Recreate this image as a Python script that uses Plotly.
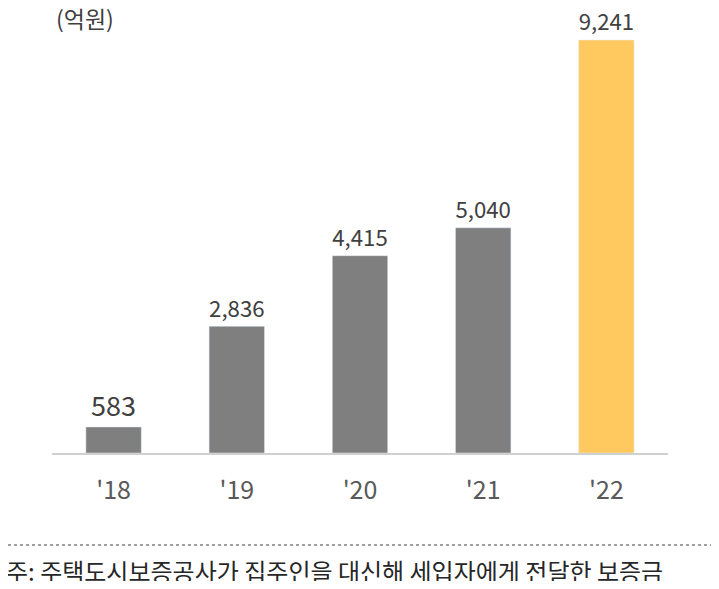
import plotly.graph_objects as go

years = ["'18", "'19", "'20", "'21", "'22"]
values = [583, 2836, 4415, 5040, 9241]
labels = ["583", "2,836", "4,415", "5,040", "9,241"]
colors = ["#7f7f7f"] * 4 + ["#ffc95f"]

W, H = 703, 573
L, R, T, B = 44, 43, 12, 128
ph = H - T - B
pw = W - L - R

fig = go.Figure(go.Bar(
    x=years, y=values, marker_color=colors, width=0.45,
    text=labels, textposition="outside", cliponaxis=False,
    textfont=dict(size=27, color="#404040", family="Noto Sans CJK KR"),
))
fig.update_layout(
    width=W, height=H, margin=dict(l=L, r=R, t=T, b=B),
    plot_bgcolor="white", paper_bgcolor="white", showlegend=False,
    font=dict(family="Noto Sans CJK KR"),
    xaxis=dict(showline=True, linecolor="#d0d0d0", linewidth=2, ticks="",
               ticklabelstandoff=14,
               tickfont=dict(size=25, color="#595959")),
    yaxis=dict(range=[0, 9241 * ph / 413], visible=False),
    shapes=[dict(type="line", xref="paper", yref="paper",
                 x0=-L / pw, x1=1 + R / pw, y0=-92 / ph, y1=-92 / ph,
                 line=dict(color="#404040", width=1, dash="dot"))],
    annotations=[
        dict(text="(억원)", xref="paper", yref="paper", x=2 / pw, y=1 + 2 / ph,
             xanchor="left", yanchor="middle", showarrow=False,
             font=dict(size=23, color="#404040")),
        dict(text="주: 주택도시보증공사가 집주인을 대신해 세입자에게 전달한 보증금",
             xref="paper", yref="paper", x=-L / pw - 4 / pw, y=-117 / ph,
             xanchor="left", yanchor="middle", showarrow=False,
             font=dict(size=24, color="#262626")),
    ],
)
fig.write_html("out.html")
